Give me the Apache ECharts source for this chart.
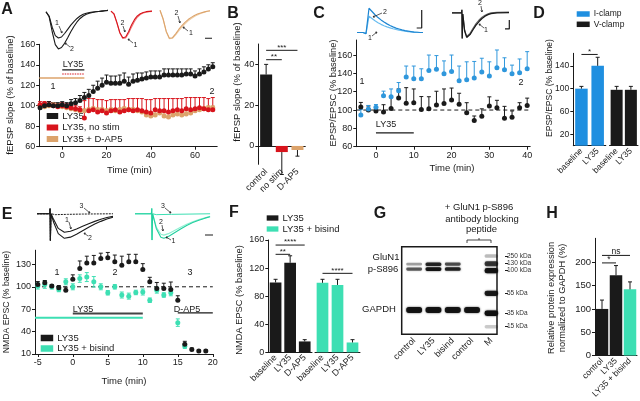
<!DOCTYPE html>
<html><head><meta charset="utf-8">
<script src="https://cdn.jsdelivr.net/npm/echarts@6/dist/echarts.min.js"></script>
<style>html,body{margin:0;padding:0;background:#fff}#c{width:640px;height:401px}</style>
</head><body><div id="c"></div>
<script>
// ================= DATA =================
// Panel A (fEPSP slope, % baseline)
const timeA = [-10,-8,-6,-4,-2,0,2,4,6,8,10,12,14,16,18,20,22,24,26,28,30,32,34,36,38,40,42,44,46,48,50,52,54,56,58,60,62,64,66,68];
const A_ly35 = [98,100,101,100,100,101,100,102,103,105,108,110,114,117,120,123,122,122,122,124,121,124,125,126,127,128,128,128,130,130,130,130,130,131,131,129,131,133,136,138];
const A_ly35_err = [3,3,3,3,3,3,3,4,4,5,5,6,6,7,7,7,7,7,8,8,7,7,7,6,6,6,6,6,6,6,6,6,6,5,5,5,5,5,4,4];
const A_nostim = [101,102,101,100,99,100,99,98,97,96,88,95,96,94,95,93,95,96,94,95,96,95,96,95,94,93,96,95,95,94,95,96,95,97,96,97,98,97,96,96];
const A_nostim_err = [3,2,3,3,3,3,3,3,3,3,17,12,11,12,11,12,11,10,12,11,11,12,11,12,12,13,11,12,12,13,12,11,12,11,12,11,10,11,11,12];
const A_dap5 = [100,99,100,101,100,99,98,97,96,95,95,96,97,96,96,95,96,95,96,97,96,96,95,94,91,90,91,93,90,89,91,92,91,92,93,95,96,97,98,98];
const A_dap5_err = [2,2,2,2,2,2,2,2,2,2,2,2,2,2,2,2,2,2,2,2,2,2,2,2,2,2,2,2,2,2,2,2,2,2,2,2,2,2,2,2];
const A_drug_ly35 = [[0,135],[10,135]];
const A_drug_nostim = [[0,131],[10,131]];
const A_drug_dap5 = [[-10.4,127],[10,127]];
// Panel A inset traces (normalised amplitude)
const trA_black1 = [0.02,-0.1,-0.42,-0.66,-0.73,-0.7,-0.6,-0.48,-0.36,-0.26,-0.17,-0.1,-0.05,-0.02,0,0.01,0.02,0.03,0.04,0.05,0.06];
const trA_black2 = [0.02,-0.12,-0.55,-0.92,-1.04,-1.0,-0.88,-0.72,-0.55,-0.4,-0.27,-0.17,-0.1,-0.05,-0.02,0,0.02,0.03,0.04,0.05,0.06];
const trA_red1 = [0.02,-0.08,-0.4,-0.78,-0.98,-0.95,-0.75,-0.5,-0.3,-0.16,-0.08,-0.03,0,0.01,0.02];
const trA_red2 = [0.02,-0.08,-0.42,-0.8,-1.0,-0.99,-0.82,-0.58,-0.37,-0.21,-0.11,-0.05,-0.02,0,0.01];
const trA_tan1 = [0.02,-0.3,-0.75,-1.0,-0.98,-0.84,-0.68,-0.54,-0.42,-0.32,-0.24,-0.17,-0.12,-0.08,-0.05,-0.02,0];
const trA_tan2 = [0.02,-0.3,-0.77,-1.02,-1.0,-0.88,-0.73,-0.6,-0.48,-0.37,-0.28,-0.21,-0.15,-0.1,-0.06,-0.03,-0.01];
const scaleA = [[14.4,-1.0],[17.8,-1.0],[17.8,-0.035]];

// Panel B
const catsB = ['control','no stim','D-AP5'];
const valsB = [35,-3,-2];
const errB = [5,-11,-3];
const sigB = [[0.15,1,42.3,'**'],[0.15,2,46.9,'***']];

// Panel C (EPSP/EPSC % baseline)
const timeC = [-4,-2,0,2,4,6,8,10,12,14,16,18,20,22,24,26,28,30,32,34,36,38,40];
const C_iclamp = [94.5,101,103,115.6,114.4,121,136,134,134,143,144.4,139.6,142,132,133,135,141.5,137,146,144,139.6,140.7,145];
const C_iclamp_err = [6,4,3,5,8.6,9,12,14,11,17,15,14,18,16,19.6,18,15,15.6,19.5,13,9.4,15,18.7];
const C_vclamp = [103.3,100,99,97.8,101.8,113,107.4,108,100.7,101.5,105.5,107,111,106.3,97,88.5,93.3,104.4,102.6,91,92,102.6,105];
const C_vclamp_err = [5,4.4,3,8,12,10,17,15,14,13,15,16,13,12,11,5,8,10,8,13,7,5.4,8];
const C_base = [[-5.2,100],[40.8,100]];
const C_drug = [[0,75],[10,75]];
const trC_blue1 = [0,0,0,-0.05,0.7,0.6,0.5,0.42,0.35,0.29,0.24,0.2,0.16,0.13,0.1,0.08,0.06,0.04,0.03,0.02,0.01,0,0];
const trC_blue2 = [0,0,0,-0.05,1.04,0.9,0.76,0.64,0.54,0.45,0.37,0.3,0.24,0.19,0.15,0.11,0.08,0.06,0.04,0.02,0.01,0,0];
const trC_black1 = [[0,0],[3.2,0],[3.3,0.12],[3.4,-1.0],[3.6,-0.05],[4.2,-0.7],[4.9,-0.96],[6,-0.85],[7,-0.66],[8,-0.48],[9,-0.34],[10,-0.22],[11,-0.13],[12,-0.07],[13,-0.03],[15,0],[19,0.01]];
const trC_black2 = [[0,0],[3.2,0],[3.3,0.12],[3.4,-1.0],[3.6,-0.05],[4.2,-0.68],[4.9,-0.92],[6,-0.8],[7,-0.6],[8,-0.42],[9,-0.28],[10,-0.17],[11,-0.09],[12,-0.04],[13,0],[15,0.02],[19,0.03]];
const scaleC1 = [[19.9,0.193],[21.57,0.193],[21.57,0.964]];
const scaleC2 = [[17.67,-0.63],[19.1,-0.63],[19.1,-0.28]];

// Panel D
const catsD1 = ['baseline','LY35'];
const catsD2 = ['baseline','LY35'];
const D_iclamp = [100,140];
const D_iclamp_err = [4,15];
const D_vclamp = [98,98];
const D_vclamp_err = [6,6];
const sigD = [[0,1,160,'*']];

// Panel E (NMDA EPSC % baseline)
const timeE = [-5,-4,-3,-2,-1,0,1,2,3,4,5,6,7,8,9,10,11,12,13,14,15,16,17,18,19];
const E_ly35 = [103,105.4,101,98.7,95.5,110,124.6,132,132,138,139,133.5,129,133.5,133.5,123,106.7,97.8,97.8,96.4,82,23,16,14,14];
const E_ly35_err = [4,3,2,3,4,6,10,9,10,7,7,9,12,10,10,8,6,8,7,10,6,4,2,1.5,1.5];
const timeE2 = [-5,-4,-3,-2,-1,0,1,2,3,4,5,6,7,8,9,10,11,12,13,14,15,16];
const E_bisind = [101,103,100,96.4,106.7,100,111,113,106.7,100,92,100,89,87.5,92.4,93,82,95.5,89,92,52,20.5];
const E_bisind_err = [4,5,3,3,4,4,5,6,7,4,3,3,4,4,3,4,3,4,3,4,5,3];
const E_base = [[-5.4,100],[20,100]];
const E_drug_ly35 = [[0,64.4],[10,64.4]];
const E_drug_bisind = [[-5.4,58.5],[10,58.5]];
const E_drug_dap5 = [[15,65.2],[20,65.2]];
const trE_black1 = [[0,0],[4.2,0],[4.3,0.18],[4.4,-0.92],[4.6,0],[5.5,-0.2],[7,-0.5],[9,-0.63],[11,-0.6],[13,-0.52],[15,-0.43],[17,-0.34],[19,-0.26],[21,-0.19],[23,-0.13],[25,-0.09]];
const trE_black2 = [[0,0],[4.2,0],[4.3,0.18],[4.4,-0.92],[4.6,0],[5.5,-0.3],[7,-0.68],[9,-0.84],[11,-0.8],[13,-0.7],[15,-0.58],[17,-0.46],[19,-0.35],[21,-0.26],[23,-0.18],[25,-0.12]];
const trE_black3 = [[0,0],[4.2,0],[4.3,0.18],[4.4,-0.92],[4.6,0],[6,-0.03],[10,-0.02],[15,-0.01],[25,0]];
const trE_teal1 = [[0,0],[5.4,0],[5.5,0.18],[5.6,-0.9],[5.8,0],[7,-0.5],[8.5,-0.8],[9.5,-0.84],[11,-0.78],[13,-0.65],[15,-0.52],[17,-0.4],[19,-0.3],[21,-0.22],[23,-0.15],[24.7,-0.1]];
const trE_teal2 = [[0,0],[5.4,0],[5.5,0.18],[5.6,-0.9],[5.8,0],[7,-0.45],[8.5,-0.7],[9.5,-0.73],[11,-0.68],[13,-0.57],[15,-0.46],[17,-0.36],[19,-0.27],[21,-0.2],[23,-0.14],[24.7,-0.09]];
const trE_teal3 = [[0,0],[5.4,0],[5.5,0.18],[5.6,-0.9],[5.8,0],[7,-0.03],[12,-0.02],[24.7,0]];
const scaleE = [[23.03,-0.726],[26.3,-0.726],[26.3,-0.316]];

// Panel F
const catsF = ['baseline','LY35','D-AP5'];
const F_ly35 = [99.5,127.5,15.5];
const F_ly35_err = [4.5,10,2.5];
const F_bisind = [99,96,14];
const F_bisind_err = [5,8,4];
const sigF1 = [[0,1,139.6,'**'],[0,2,152.8,'****']];
const sigF2 = [[0,2,112.5,'****']];

// Panel G (western blot; migration position 0 = top of gel, 100 = bottom)
const lanesG = ['control','LY35','bisind','control','M'];
const bandsGluN1 = [[0,20,0.35],[0,25.5,0.6],[1,20,0.85],[1,25.5,0.95],[2,20,0.65],[2,25.5,0.85]];
const bandsGAPDH = [[0,72.3,0.95],[1,72.3,0.95],[2,72.3,0.95],[3,72.3,0.95]];
const bandsMarker = [[4,10.6,0.25],[4,19.5,0.75],[4,27.4,0.95],[4,53.2,0.9],[4,76,1.0],[4,91.3,0.2]];
const markerPos = [10.6,19,27.4,53.2,76,91.3];
const markerLabels = ['250 kDa','130 kDa','100 kDa','55 kDa','35 kDa','15 kDa'];

// Panel H
const catsH = ['control','LY35','LY35 + bisind'];
const H_vals = [100,172,142];
const H_err = [19,21,16];
const sigH = [[0,1,198.7,'*'],[0,2,214.8,'ns']];

// ================= BUILD =================
const FF = "'Liberation Sans', Arial, Helvetica, sans-serif";
const INK = '#1a1a1a';
const RED = '#d8141c', TAN = '#dca36b', BLUE = '#2f97dc', DBLUE = '#1f8fe0', TEAL = '#3ddfb3';
const grid = [], xAxis = [], yAxis = [], series = [], graphic = [], legend = [];

function vAxis(min, max, ticks, o) {
  o = o || {};
  return {
    type: 'value', min: min, max: max, position: o.position, offset: o.offset || 0, inverse: !!o.inverse,
    axisLine: {show: o.line !== false, onZero: false, lineStyle: {color: INK, width: 1}},
    axisTick: {show: true, length: 3, customValues: ticks, lineStyle: {color: INK, width: 1}},
    axisLabel: {show: true, customValues: ticks, fontSize: o.fs || 9, color: o.color || INK, fontFamily: FF, margin: o.margin || 4, formatter: o.fmt},
    splitLine: {show: false}
  };
}
function hAxis(min, max, o) { return Object.assign({type: 'value', min: min, max: max, show: false, splitLine: {show: false}}, o || {}); }
function cAxis(cats, o) {
  o = o || {};
  return {
    type: 'category', data: cats, position: 'bottom',
    axisLine: {show: o.line !== false, onZero: !!o.onZero, lineStyle: {color: INK, width: 1}},
    axisTick: {show: false},
    axisLabel: {show: o.labels !== false, rotate: 45, interval: 0, fontSize: o.fs || 9, color: INK, fontFamily: FF, margin: o.margin || 4},
    splitLine: {show: false}
  };
}
function addGrid(box, xa, ya) {
  const gi = grid.length;
  grid.push(Object.assign({containLabel: false}, box));
  xa.gridIndex = gi; ya.gridIndex = gi;
  xAxis.push(xa); yAxis.push(ya);
  return {xi: xAxis.length - 1, yi: yAxis.length - 1, gi: gi};
}
function pts(name, ax, xs, ys, color, size) {
  series.push({name: name, type: 'scatter', xAxisIndex: ax.xi, yAxisIndex: ax.yi,
    data: xs.map((x, i) => [x, ys[i]]), symbolSize: size || 5, itemStyle: {color: color, opacity: 1}, z: 4, silent: true});
}
function errs(ax, xs, ys, es, color, both, cap) {
  const c = cap || 2;
  series.push({type: 'custom', xAxisIndex: ax.xi, yAxisIndex: ax.yi, clip: false, z: 3, silent: true,
    data: xs.map((x, i) => [x, ys[i], es[i]]),
    renderItem: function (p, api) {
      const x = api.value(0), y = api.value(1), e = api.value(2);
      const t = api.coord([x, y + e]), b = api.coord([x, both ? y - e : y]);
      const st = {stroke: color, lineWidth: 1};
      const ch = [
        {type: 'line', shape: {x1: t[0], y1: t[1], x2: b[0], y2: b[1]}, style: st},
        {type: 'line', shape: {x1: t[0] - c, y1: t[1], x2: t[0] + c, y2: t[1]}, style: st}];
      if (both) ch.push({type: 'line', shape: {x1: b[0] - c, y1: b[1], x2: b[0] + c, y2: b[1]}, style: st});
      return {type: 'group', children: ch};
    }});
}
function seg(ax, pairs, color, width, dash, z) {
  series.push({type: 'line', xAxisIndex: ax.xi, yAxisIndex: ax.yi, data: pairs, showSymbol: false, symbol: 'none',
    lineStyle: {color: color, width: width || 1, type: dash || 'solid'}, clip: false, silent: true, z: z || 2});
}
function trace(ax, arr, color, width, dash) {
  const d = (typeof arr[0] === 'number') ? arr.map((v, i) => [i, v]) : arr;
  seg(ax, d, color, width || 1, dash, 2);
}
function bars(name, ax, vals, colors, width) {
  series.push({name: name, type: 'bar', xAxisIndex: ax.xi, yAxisIndex: ax.yi, barWidth: width, silent: true, z: 2,
    itemStyle: {color: colors[0]},
    data: vals.map((v, i) => ({value: v, itemStyle: {color: colors[i]}}))});
}
function sig(ax, arr, fs) {
  series.push({type: 'custom', xAxisIndex: ax.xi, yAxisIndex: ax.yi, clip: false, silent: true, z: 5,
    data: arr.map(r => [r[0], r[1], r[2]]),
    renderItem: function (p, api) {
      const a = api.coord([api.value(0), api.value(2)]), b = api.coord([api.value(1), api.value(2)]);
      return {type: 'group', children: [
        {type: 'line', shape: {x1: a[0], y1: a[1], x2: b[0], y2: b[1]}, style: {stroke: INK, lineWidth: 1}},
        {type: 'text', style: {text: arr[p.dataIndex][3], x: (a[0] + b[0]) / 2, y: a[1] + 1, align: 'center', verticalAlign: 'bottom', fontSize: fs || 8, fill: INK, fontFamily: FF}}]};
    }});
}
function bands(ax, arr, hpx, wfrac) {
  series.push({type: 'custom', xAxisIndex: ax.xi, yAxisIndex: ax.yi, clip: false, silent: true, z: 3, data: arr,
    renderItem: function (p, api) {
      const c = api.coord([api.value(0), api.value(1)]);
      const w = api.size([1, 0])[0] * (wfrac || 0.8);
      const k = api.value(2);
      const h = hpx * (0.7 + 0.5 * k);
      return {type: 'rect', shape: {x: c[0] - w / 2, y: c[1] - h / 2, width: w, height: h, r: h / 2.2},
        style: {fill: 'rgba(15,15,15,' + k + ')', shadowBlur: 2, shadowColor: 'rgba(0,0,0,' + (k * 0.8) + ')'}};
    }});
}
function txt(x, y, s, o) {
  o = o || {};
  graphic.push({type: 'text', x: x, y: y, rotation: o.rot || 0, z: 10, silent: true,
    style: {text: s, fontSize: o.fs || 9, fill: o.color || INK, fontFamily: FF, fontWeight: o.bold ? 'bold' : 'normal',
      align: o.align || 'center', verticalAlign: 'middle', lineHeight: o.lh}});
}
function arrow(x1, y1, x2, y2) {
  graphic.push({type: 'line', silent: true, z: 10, shape: {x1: x1, y1: y1, x2: x2, y2: y2}, style: {stroke: INK, lineWidth: 0.7}});
  const an = Math.atan2(y2 - y1, x2 - x1), L = 2;
  [0.5, -0.5].forEach(d => graphic.push({type: 'line', silent: true, z: 10,
    shape: {x1: x2, y1: y2, x2: x2 - L * Math.cos(an + d), y2: y2 - L * Math.sin(an + d)}, style: {stroke: INK, lineWidth: 0.7}}));
}
function leg(left, top, names, fs, iw, ih, gap, lh) {
  legend.push({left: left, top: top, orient: 'vertical', padding: 0, itemWidth: iw, itemHeight: ih, itemGap: gap, icon: 'rect',
    selectedMode: false, data: names, formatter: n => n.split('|')[1],
    textStyle: {fontSize: fs, lineHeight: lh, color: INK, fontFamily: FF, padding: [0, 0, 0, -1]}});
}
const ROT = Math.PI / 2;

// ---------- Panel A ----------
const gA = addGrid({left: 39.2, top: 44.3, width: 178, height: 102.4},
  vAxis(-10.4, 70, [0, 20, 40, 60]), vAxis(60, 160, [60, 80, 100, 120, 140, 160]));
seg(gA, A_drug_dap5, TAN, 1.5);
seg(gA, A_drug_ly35, INK, 1.2);
seg(gA, A_drug_nostim, RED, 1.2, [1.5, 1]);
errs(gA, timeA, A_dap5, A_dap5_err, '#e6bb8c');
pts('A|LY35 + D-AP5', gA, timeA, A_dap5, TAN, 5);
errs(gA, timeA, A_nostim, A_nostim_err, RED);
pts('A|LY35, no stim', gA, timeA, A_nostim, RED, 5);
errs(gA, timeA, A_ly35, A_ly35_err, INK);
pts('A|LY35', gA, timeA, A_ly35, INK, 5);
leg(46.7, 111, ['A|LY35', 'A|LY35, no stim', 'A|LY35 + D-AP5'], 9.5, 11.5, 6, 1.5, 10);
txt(73, 65, 'LY35');
txt(53, 87, '1');
txt(212, 92, '2');
txt(10, 95, 'fEPSP slope (% of baseline)', {rot: ROT, fs: 9.5});
txt(129.5, 170, 'Time (min)', {fs: 9.5});
txt(7, 10, 'A', {bold: true, fs: 16});
// A insets
const gA1 = addGrid({left: 46, top: 9, width: 62, height: 42}, hAxis(0, 20), hAxis(-1.1, 0.1));
trace(gA1, trA_black1, INK, 1.1); trace(gA1, trA_black2, INK, 1.1);
const gA2 = addGrid({left: 111, top: 9, width: 41, height: 32}, hAxis(0, 14), hAxis(-1.1, 0.1));
trace(gA2, trA_red2, '#f07a7a', 1.1); trace(gA2, trA_red1, RED, 1.1);
const gA3 = addGrid({left: 160, top: 8, width: 50, height: 33}, hAxis(0, 16), hAxis(-1.1, 0.1));
trace(gA3, trA_tan2, '#efcfa8', 1.1); trace(gA3, trA_tan1, TAN, 1.1);
seg(gA3, scaleA, INK, 1.2);
txt(57, 23, '1', {fs: 7}); arrow(59, 26, 62, 33);
txt(72, 49, '2', {fs: 7}); arrow(70, 47, 65, 43);
txt(122.5, 23, '2', {fs: 7}); arrow(123, 26, 125, 32);
txt(135.5, 45, '1', {fs: 7}); arrow(133, 43, 128, 39);
txt(176.5, 13, '2', {fs: 7}); arrow(178, 16, 180, 23);
txt(191, 33, '1', {fs: 7}); arrow(188, 31, 183, 27);

// ---------- Panel B ----------
const gB = addGrid({left: 258.3, top: 44, width: 47, height: 120.3},
  cAxis(catsB, {line: false, margin: 6}), vAxis(-9, 50, [0, 20, 40]));
xAxis.push(Object.assign(cAxis(catsB, {onZero: true, labels: false}), {gridIndex: gB.gi}));
bars('B|bars', gB, valsB, [INK, RED, TAN], 12);
errs(gB, [0, 1, 2], valsB, errB, INK);
sig(gB, sigB, 8);
txt(237.5, 82, 'fEPSP slope (% of baseline)', {rot: ROT, fs: 9.5});
txt(233, 14, 'B', {bold: true, fs: 16});

// ---------- Panel C ----------
const gC = addGrid({left: 356.3, top: 40, width: 173.9, height: 106.7},
  vAxis(-5.2, 40.8, [0, 10, 20, 30, 40]), vAxis(60, 176.4, [60, 80, 100, 120, 140, 160]));
seg(gC, C_base, INK, 1, [4, 3], 1);
seg(gC, C_drug, INK, 1.3);
errs(gC, timeC, C_vclamp, C_vclamp_err, INK);
pts('C|V-clamp', gC, timeC, C_vclamp, INK, 5);
errs(gC, timeC, C_iclamp, C_iclamp_err, BLUE);
pts('C|I-clamp', gC, timeC, C_iclamp, BLUE, 5);
txt(386, 125, 'LY35');
txt(362, 82, '1'); txt(521, 83, '2');
txt(333, 93, 'EPSP/EPSC (% baseline)', {rot: ROT, fs: 9.3});
txt(452, 168, 'Time (min)', {fs: 9.5});
txt(319, 14, 'C', {bold: true, fs: 16});
const gC1 = addGrid({left: 357, top: 8, width: 66, height: 28}, hAxis(0, 22), hAxis(-0.15, 1.05));
trace(gC1, trC_blue1, '#69bdf0', 1.2); trace(gC1, trC_blue2, '#1e86d2', 1.2);
seg(gC1, scaleC1, INK, 1.2);
const gC2 = addGrid({left: 452, top: 9, width: 57, height: 32}, hAxis(0, 19), hAxis(-1.1, 0.15));
trace(gC2, trC_black2, '#666', 1.1); trace(gC2, trC_black1, INK, 1.3);
seg(gC2, scaleC2, INK, 1.2);
txt(385, 12, '2', {fs: 7}); arrow(382, 13, 373, 17);
txt(370, 38, '1', {fs: 7}); arrow(372, 36, 377, 32);
txt(480, 3, '2', {fs: 7}); arrow(481, 6, 482, 12);
txt(486, 30, '1', {fs: 7}); arrow(484, 28, 479, 24);

// ---------- Panel D ----------
const gD1 = addGrid({left: 573.3, top: 53.3, width: 32.5, height: 92.4},
  cAxis(catsD1, {fs: 8.5}), vAxis(0, 162, [20, 60, 100, 140], {fs: 8.5}));
const gD2 = addGrid({left: 609.5, top: 53.3, width: 28.5, height: 92.4},
  cAxis(catsD2, {fs: 8.5}), hAxis(0, 162));
bars('D|I-clamp', gD1, D_iclamp, [DBLUE, DBLUE], 12.5);
errs(gD1, [0, 1], D_iclamp, D_iclamp_err, INK);
bars('D|V-clamp', gD2, D_vclamp, [INK, INK], 12);
errs(gD2, [0, 1], D_vclamp, D_vclamp_err, INK);
sig(gD1, sigD, 8);
leg(576.7, 9.5, ['D|I-clamp', 'D|V-clamp'], 8.5, 13, 5.5, 1.3, 9);
txt(550, 88, 'EPSP/EPSC (% baseline)', {rot: ROT, fs: 8.5});
txt(539, 14, 'D', {bold: true, fs: 16});

// ---------- Panel E ----------
const gE = addGrid({left: 35, top: 250.2, width: 177.8, height: 103.8},
  vAxis(-5.4, 20, [-5, 0, 5, 10, 15, 20]), vAxis(10, 149, [10, 40, 70, 100, 130]));
seg(gE, E_base, INK, 1, [4, 3], 1);
seg(gE, E_drug_ly35, '#444', 2);
seg(gE, E_drug_bisind, TEAL, 2);
seg(gE, E_drug_dap5, INK, 1.2);
errs(gE, timeE2, E_bisind, E_bisind_err, TEAL, true);
pts('E|LY35 + bisind', gE, timeE2, E_bisind, TEAL, 5);
errs(gE, timeE, E_ly35, E_ly35_err, INK);
pts('E|LY35', gE, timeE, E_ly35, INK, 5);
leg(40.7, 333, ['E|LY35', 'E|LY35 + bisind'], 9.5, 12.5, 6.5, 0.5, 10);
txt(83, 309.5, 'LY35'); txt(187, 309.5, 'D-AP5');
txt(57, 273, '1'); txt(115, 273, '2'); txt(190, 273, '3');
txt(7, 302, 'NMDA EPSC (% baseline)', {rot: ROT, fs: 8.7});
txt(124, 381, 'Time (min)', {fs: 9.5});
txt(7, 215, 'E', {bold: true, fs: 16});
const gE1 = addGrid({left: 37, top: 205, width: 76, height: 38}, hAxis(0, 25), hAxis(-1.0, 0.3));
trace(gE1, trE_black3, INK, 1, [2, 1]); trace(gE1, trE_black1, INK, 1.1); trace(gE1, trE_black2, INK, 1.1);
const gE2 = addGrid({left: 135, top: 205, width: 76, height: 38}, hAxis(0, 25), hAxis(-1.0, 0.3));
trace(gE2, trE_teal3, TEAL, 1); trace(gE2, trE_teal2, '#8ef0d2', 1.1); trace(gE2, trE_teal1, '#22cf9e', 1.1);
seg(gE2, scaleE, INK, 1.2);
txt(81.5, 206.5, '3', {fs: 7}); arrow(84, 208, 90, 213);
txt(67, 220, '1', {fs: 7}); arrow(69, 222, 71, 229);
txt(90, 238, '2', {fs: 7}); arrow(88, 236, 84, 233);
txt(163, 206.5, '3', {fs: 7}); arrow(165, 208, 171, 213);
txt(161, 222, '2', {fs: 7}); arrow(162, 225, 163, 231);
txt(173.5, 241.5, '1', {fs: 7}); arrow(171, 240, 166, 237);

// ---------- Panel F ----------
const gF1 = addGrid({left: 268.3, top: 240, width: 43.7, height: 112.3},
  cAxis(catsF), vAxis(0, 160, [0, 40, 80, 120, 160]));
const gF2 = addGrid({left: 315, top: 240, width: 45, height: 112.3}, cAxis(catsF), hAxis(0, 160));
bars('F|LY35', gF1, F_ly35, [INK, INK, INK], 11.7);
errs(gF1, [0, 1, 2], F_ly35, F_ly35_err, INK);
bars('F|LY35 + bisind', gF2, F_bisind, [TEAL, TEAL, TEAL], 11.7);
errs(gF2, [0, 1, 2], F_bisind, F_bisind_err, INK);
sig(gF1, sigF1, 8); sig(gF2, sigF2, 8);
leg(266.7, 213, ['F|LY35', 'F|LY35 + bisind'], 9.5, 11.7, 5.3, 1, 10);
txt(239, 300, 'NMDA EPSC (% baseline)', {rot: ROT, fs: 9.3});
txt(234, 213, 'F', {bold: true, fs: 16});

// ---------- Panel G ----------
const gGbox = addGrid({left: 401.7, top: 246.7, width: 95.3, height: 87.6, show: true, borderColor: INK, borderWidth: 1.5, backgroundColor: 'transparent'},
  hAxis(0, 1), vAxis(0, 100, markerPos, {position: 'right', offset: 8, inverse: true, line: false, fs: 6.5, margin: 2, color: '#333',
    fmt: v => markerLabels[markerPos.indexOf(v)] || ''}));
const gG = addGrid({left: 404.5, top: 246.7, width: 96.5, height: 87.6},
  cAxis(lanesG, {line: false, margin: 5}), hAxis(0, 100, {inverse: true}));
bands(gG, bandsGluN1, 3.2, 0.82);
bands(gG, bandsGAPDH, 5, 0.82);
bands(gG, bandsMarker, 4.5, 0.7);
txt(386, 257.5, 'GluN1', {fs: 9.5});
txt(383, 269, 'p-S896', {fs: 9.5});
txt(379, 309, 'GAPDH', {fs: 9.5});
txt(479, 207.5, '+ GluN1 p-S896', {fs: 9.5});
txt(482, 219, 'antibody blocking', {fs: 9.5});
txt(481.5, 229.5, 'peptide', {fs: 9.5});
graphic.push({type: 'polyline', silent: true, shape: {points: [[467, 243], [467, 240], [491, 240], [491, 243]]}, style: {stroke: INK, lineWidth: 0.8, fill: null}});
graphic.push({type: 'line', silent: true, shape: {x1: 479, y1: 240, x2: 479, y2: 238}, style: {stroke: INK, lineWidth: 0.8}});
txt(380, 214, 'G', {bold: true, fs: 16});

// ---------- Panel H ----------
const gH = addGrid({left: 595, top: 238.3, width: 42, height: 119},
  cAxis(catsH, {fs: 8.5}), vAxis(0, 251.5, [0, 50, 100, 150, 200], {fs: 9.5}));
bars('H|bars', gH, H_vals, [INK, INK, TEAL], 12.5);
errs(gH, [0, 1, 2], H_vals, H_err, INK);
sig(gH, sigH, 8.5);
txt(551, 298, 'Relative protein expression', {rot: ROT, fs: 9.3});
txt(562, 298, 'normalized to GAPDH (%)', {rot: ROT, fs: 9.3});
txt(552, 214, 'H', {bold: true, fs: 16});

const chart = echarts.init(document.getElementById('c'), null, {renderer: 'canvas', width: 640, height: 401});
chart.setOption({animation: false, backgroundColor: '#fff', grid: grid, xAxis: xAxis, yAxis: yAxis, series: series, graphic: graphic, legend: legend});
</script></body></html>
